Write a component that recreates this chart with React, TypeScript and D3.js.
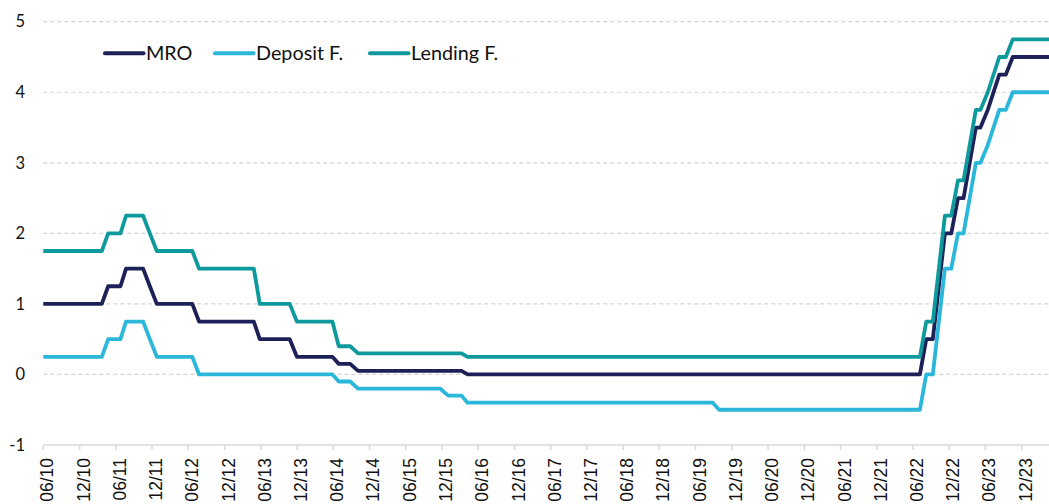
import React from 'react';
import * as d3 from 'd3';

// ECB key rates, vertices (date, %)
const mroDates = [
  '2010-06-01', '2011-03-23', '2011-04-24', '2011-06-25', '2011-07-23', '2011-10-17', '2011-11-20', '2011-12-25',
  '2012-06-21', '2012-07-25', '2013-04-27', '2013-05-27', '2013-10-25', '2013-11-30', '2014-05-28', '2014-06-29',
  '2014-08-26', '2014-10-04', '2016-03-09', '2016-04-08', '2022-07-06', '2022-08-07', '2022-09-09', '2022-11-09',
  '2022-12-11', '2023-01-14', '2023-02-11', '2023-04-14', '2023-05-07', '2023-06-13', '2023-08-10', '2023-09-12',
  '2023-10-17', '2024-06-01',
];
const mroValues = [
  1, 1, 1.25, 1.25, 1.5, 1.5, 1.25, 1,
  1, 0.75, 0.75, 0.5, 0.5, 0.25, 0.25, 0.15,
  0.15, 0.05, 0.05, 0, 0, 0.5, 0.5, 2,
  2, 2.5, 2.5, 3.5, 3.5, 3.75, 4.25, 4.25,
  4.5, 4.5,
];

const depositDates = [
  '2010-06-01', '2011-03-23', '2011-04-24', '2011-06-25', '2011-07-23', '2011-10-17', '2011-11-20', '2011-12-25',
  '2012-06-21', '2012-07-25', '2014-05-28', '2014-06-29', '2014-08-26', '2014-10-04', '2015-11-21', '2016-01-02',
  '2016-03-09', '2016-04-08', '2019-08-27', '2019-09-28', '2022-07-06', '2022-08-07', '2022-09-09', '2022-11-09',
  '2022-12-11', '2023-01-14', '2023-02-11', '2023-04-14', '2023-05-07', '2023-06-13', '2023-08-10', '2023-09-12',
  '2023-10-17', '2024-06-01',
];
const depositValues = [
  0.25, 0.25, 0.5, 0.5, 0.75, 0.75, 0.5, 0.25,
  0.25, 0, 0, -0.1, -0.1, -0.2, -0.2, -0.3,
  -0.3, -0.4, -0.4, -0.5, -0.5, 0, 0, 1.5,
  1.5, 2, 2, 3, 3, 3.25, 3.75, 3.75,
  4, 4,
];

const lendingDates = mroDates;
const lendingValues = [
  1.75, 1.75, 2, 2, 2.25, 2.25, 2, 1.75,
  1.75, 1.5, 1.5, 1, 1, 0.75, 0.75, 0.4,
  0.4, 0.3, 0.3, 0.25, 0.25, 0.75, 0.75, 2.25,
  2.25, 2.75, 2.75, 3.75, 3.75, 4, 4.5, 4.5,
  4.75, 4.75,
];

const seriesNames = ['MRO', 'Deposit F.', 'Lending F.'];
const seriesColors = ['#1d2157', '#2ab7d9', '#0e9a9c'];

const xTickLabels = [
  '06/10', '12/10', '06/11', '12/11', '06/12', '12/12', '06/13', '12/13', '06/14', '12/14',
  '06/15', '12/15', '06/16', '12/16', '06/17', '12/17', '06/18', '12/18', '06/19', '12/19',
  '06/20', '12/20', '06/21', '12/21', '06/22', '12/22', '06/23', '12/23',
];
const yTicks = [-1, 0, 1, 2, 3, 4, 5];

const W = 1049;
const H = 504;
const margin = { left: 43.3, top: 21.7, bottom: 445 };

const parseDay = d3.utcParse('%Y-%m-%d');
const parseTick = d3.utcParse('%m/%y');

export default function App() {
  const tickDates = xTickLabels.map((t) => parseTick(t) as Date);

  const x = d3.scaleUtc()
    .domain([tickDates[0], tickDates[tickDates.length - 1]])
    .range([margin.left, 1021.7]);
  const y = d3.scaleLinear().domain([-1, 5]).range([margin.bottom, margin.top]);

  const series = [
    { dates: mroDates, values: mroValues },
    { dates: depositDates, values: depositValues },
    { dates: lendingDates, values: lendingValues },
  ];

  const line = d3.line<[Date, number]>()
    .x((d) => x(d[0]))
    .y((d) => y(d[1]));

  const legendX = [105, 215, 370];
  const legendY = 53.3;

  return (
    <svg width={W} height={H} style={{ position: 'absolute', left: 0, top: 0, background: '#fff' }}>
      {/* gridlines */}
      {yTicks.filter((t) => t !== -1).map((t) => (
        <line key={t} x1={margin.left} x2={W} y1={y(t)} y2={y(t)}
          stroke="#d4d4d4" strokeWidth={1.2} strokeDasharray="4,3" />
      ))}
      {/* x axis line */}
      <line x1={margin.left} x2={W} y1={y(-1)} y2={y(-1)} stroke="#d9d9d9" strokeWidth={1.5} />
      {tickDates.map((d, i) => (
        <g key={xTickLabels[i]} transform={`translate(${x(d)},0)`}>
          <line y1={y(-1)} y2={y(-1) + 5} stroke="#d9d9d9" strokeWidth={1.5} />
          <text transform={`translate(10,458) rotate(-90)`} textAnchor="end"
            fontFamily="'Liberation Sans', Arial, sans-serif" fontSize={17.5} fill="#111">
            {xTickLabels[i]}
          </text>
        </g>
      ))}
      {/* y labels */}
      {yTicks.map((t) => (
        <text key={t} x={25} y={y(t)} dy="0.35em" textAnchor="end"
          fontFamily="Lato, 'Open Sans', sans-serif" fontSize={16.5} fill="#111">
          {t}
        </text>
      ))}
      {/* series */}
      {series.map((s, i) => (
        <path key={seriesNames[i]}
          d={line(s.dates.map((d, j) => [parseDay(d) as Date, s.values[j]])) || ''}
          fill="none" stroke={seriesColors[i]} strokeWidth={3.8} strokeLinejoin="round" />
      ))}
      {/* legend */}
      {seriesNames.map((n, i) => (
        <g key={n} transform={`translate(${legendX[i]},${legendY})`}>
          <line x1={0} x2={38.5} stroke={seriesColors[i]} strokeWidth={4} strokeLinecap="round" />
          <text x={41} dy="0.35em" fontFamily="Lato, 'Open Sans', sans-serif" fontSize={19.8} fill="#111">{n}</text>
        </g>
      ))}
    </svg>
  );
}
